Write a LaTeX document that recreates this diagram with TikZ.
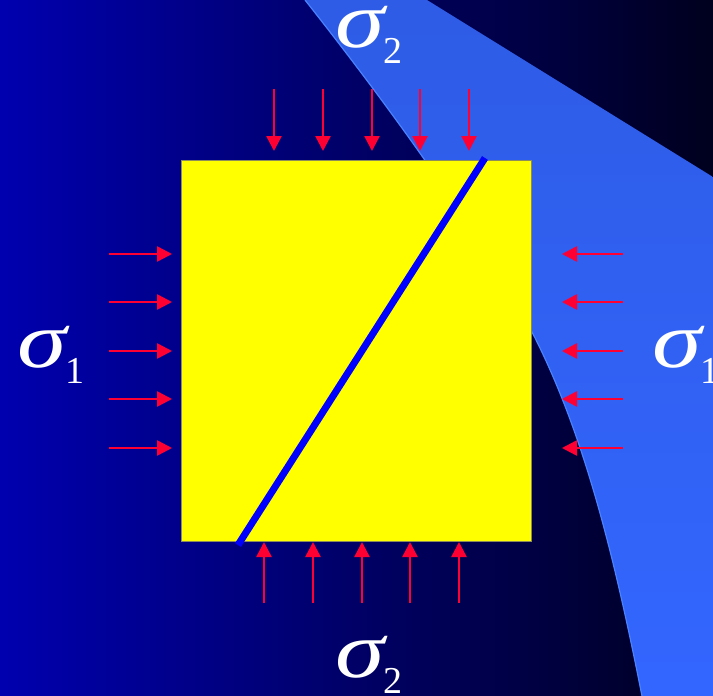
\documentclass[tikz,border=0pt]{standalone}
\usepackage{fontspec}
\setmainfont{Liberation Serif}
\usetikzlibrary{arrows.meta}

\definecolor{bgleft}{RGB}{0,0,175}
\definecolor{bgright}{RGB}{0,0,30}
\definecolor{band}{RGB}{51,102,255}
\definecolor{bandtop}{RGB}{46,92,230}
\definecolor{bandedge}{RGB}{72,130,255}
\definecolor{pushred}{RGB}{255,0,51}
\definecolor{sample}{RGB}{255,255,0}
\definecolor{rim}{RGB}{140,140,90}

\newcommand{\sig}[1]{\scalebox{1.25}[1]{\textit{σ}}\kern-2pt\raisebox{-8pt}{\fontsize{19}{19}\selectfont #1}}

\begin{document}
\begin{tikzpicture}[x=0.5pt,y=-0.5pt,
  loadarrow/.style={draw=pushred,line width=1.25pt,-{Triangle[length=7.5pt,width=7.5pt]}},
  stresslabel/.style={text=white,font=\fontsize{40}{40}\selectfont,inner sep=0pt,
    text height=16pt,text depth=0pt,anchor=base west}]

\useasboundingbox (0,0) rectangle (713,696);

% Background
\shade[left color=bgleft,right color=bgright] (0,0) rectangle (713,696);

% Light band
\shade[top color=bandtop,bottom color=band] (305,0) -- (427,0) -- (713,177) -- (713,696) -- (642,696)
  .. controls (615,560) and (585,435) .. (532,332)
  .. controls (480,230) and (380,95) .. (305,0) -- cycle;
\draw[bandedge,line width=0.6pt] (642,696)
  .. controls (615,560) and (585,435) .. (532,332)
  .. controls (480,230) and (380,95) .. (305,0);

% Sample
\node[fill=sample,draw=rim,line width=0.4pt,minimum width=175pt,minimum height=190.5pt,inner sep=0pt,outer sep=0pt] (block) at (356,350.5) {};

% Fault plane
\coordinate (ftop) at (485,158);
\coordinate (fbot) at (238,545);
\draw[blue,line width=3.5pt] (ftop) -- (fbot);

% Loads
\foreach \x in {274,323,372,420,469}
  \draw[loadarrow] (\x,89) -- (\x,151);
\foreach \x in {264,313,362,410,459}
  \draw[loadarrow] (\x,603) -- (\x,542);
\foreach \y in {254,302,351,399,448} {
  \draw[loadarrow] (109,\y) -- (172,\y);
  \draw[loadarrow] (623,\y) -- (562,\y);
}

% Labels
\node[stresslabel] (s2top) at (335,47) {\sig{2}};
\node[stresslabel] (s2bot) at (335,677) {\sig{2}};
\node[stresslabel] (s1left) at (17,367) {\sig{1}};
\node[stresslabel] (s1right) at (652,367) {\sig{1}};

\end{tikzpicture}
\end{document}
